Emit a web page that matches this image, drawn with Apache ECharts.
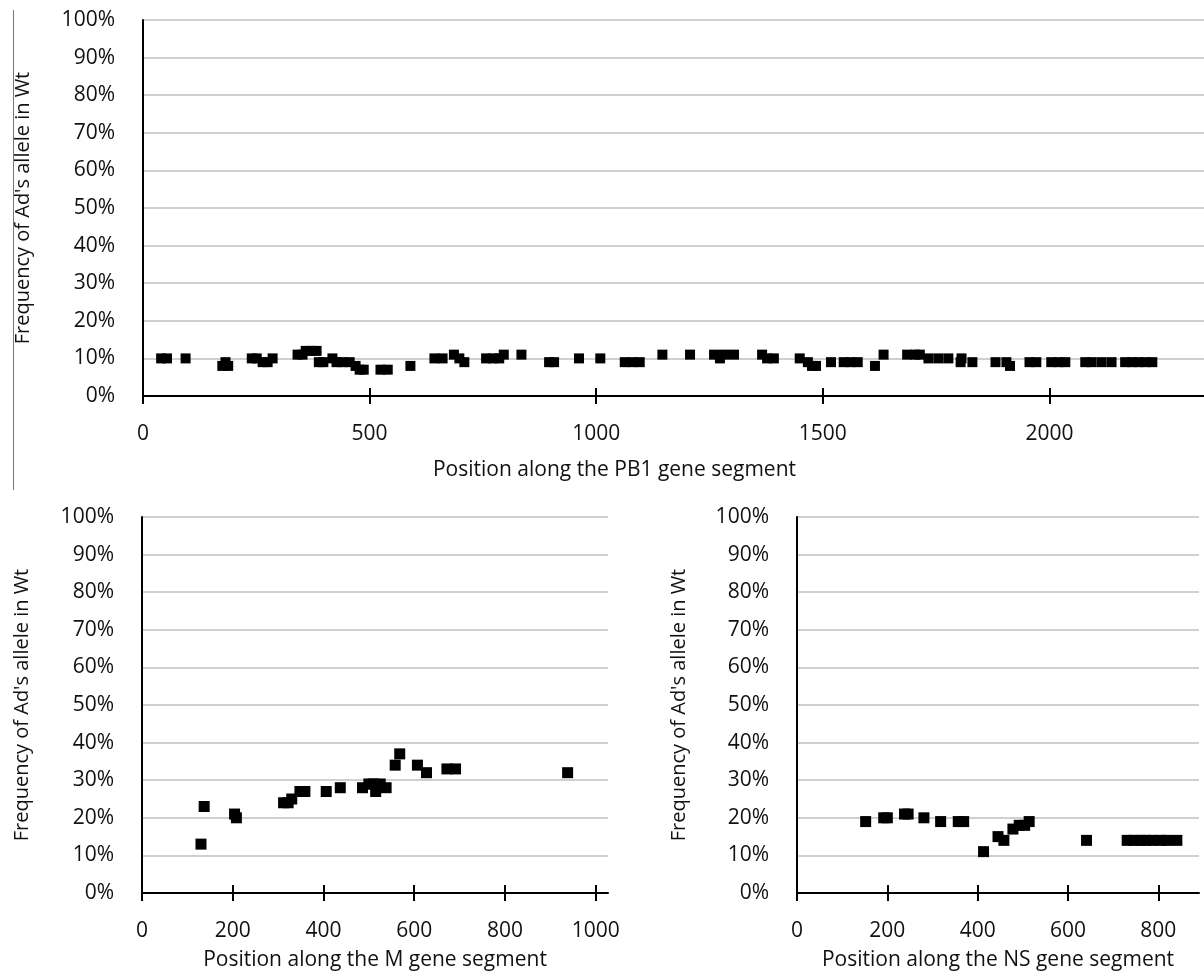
<!DOCTYPE html>
<html>
<head>
<meta charset="utf-8">
<script src="https://cdn.jsdelivr.net/npm/echarts@6/dist/echarts.min.js"></script>
<style>
html,body{margin:0;padding:0;background:#fff;}
#chart{width:1204px;height:973px;}
</style>
</head>
<body>
<div id="chart"></div>
<script>
// ---- Data (positions along segment, frequency in %) ----
const pb1Pos = [40,53,94,175,182,188,240,251,264,275,286,341,352,359,371,383,388,398,418,427,440,456,469,478,487,524,540,590,643,661,686,698,709,757,772,786,796,835,896,907,962,1009,1063,1080,1096,1146,1207,1260,1273,1282,1304,1366,1377,1392,1449,1467,1476,1485,1518,1546,1561,1577,1615,1634,1686,1704,1714,1733,1755,1777,1806,1804,1830,1881,1905,1913,1956,1971,2004,2020,2035,2079,2093,2115,2137,2167,2182,2196,2212,2227];
const pb1Freq = [10,10,10,8,9,8,10,10,9,9,10,11,11,12,12,12,9,9,10,9,9,9,8,7,7,7,7,8,10,10,11,10,9,10,10,10,11,11,9,9,10,10,9,9,9,11,11,11,10,11,11,11,10,10,10,9,8,8,9,9,9,9,8,11,11,11,11,10,10,10,10,9,9,9,9,8,9,9,9,9,9,9,9,9,9,9,9,9,9,9];

const mPos = [130,137,204,208,312,322,330,348,359,406,437,486,500,510,515,525,538,558,568,607,627,672,691,938];
const mFreq = [13,23,21,20,24,24,25,27,27,27,28,28,29,29,27,29,28,34,37,34,32,33,33,32];

const nsPos = [152,192,200,238,246,281,318,357,369,413,445,458,478,492,504,514,641,731,745,760,772,787,805,818,841];
const nsFreq = [19,20,20,21,21,20,19,19,19,11,15,14,17,18,18,19,14,14,14,14,14,14,14,14,14];

const yTicks = [0,10,20,30,40,50,60,70,80,90,100];
const pb1XTicks = [0,500,1000,1500,2000];
const mXTicks = [0,200,400,600,800,1000];
const nsXTicks = [0,200,400,600,800];

const yTitle = "Frequency of Ad's allele in Wt";
const FONT = "'Open Sans', 'Noto Sans', sans-serif";
const FS = 21;

function pairs(xs, ys){ return xs.map((x,i)=>[x, ys[i]]); }

const chart = echarts.init(document.getElementById('chart'), null, {renderer:'canvas'});

const grids = [
  {left:143, top:20, width:1063, height:376},
  {left:142, top:517, width:466, height:376},
  {left:797, top:517, width:402, height:376}
];

function xAxisPair(gi, max, ticks, name, nameGap, namePad){
  return [
    {
      type:'value', gridIndex:gi, min:0, max:max, position:'bottom',
      splitLine:{show:false},
      axisLine:{show:true, onZero:false, lineStyle:{color:'#000', width:2}},
      axisTick:{show:true, inside:false, length:8, customValues:ticks, lineStyle:{color:'#000', width:2}},
      axisLabel:{show:true, customValues:ticks, margin:28, fontSize:FS, color:'#111', fontFamily:FONT,
                 formatter:function(v){ return String(v); }},
      name:name, nameLocation:'middle', nameGap:nameGap,
      nameTextStyle:{fontSize:FS, color:'#111', fontFamily:FONT, padding:namePad}
    },
    {
      type:'value', gridIndex:gi, min:0, max:max, position:'bottom',
      splitLine:{show:false},
      axisLine:{show:false, onZero:false},
      axisTick:{show:true, inside:true, length:8, customValues:ticks, lineStyle:{color:'#000', width:2}},
      axisLabel:{show:false}
    }
  ];
}

function yAxis(gi, nameGap){
  return {
    type:'value', gridIndex:gi, min:0, max:100, interval:10,
    axisLine:{show:true, lineStyle:{color:'#000', width:2}},
    axisTick:{show:false},
    splitLine:{show:true, lineStyle:{color:'#bfbfbf', width:1.5}},
    axisLabel:{formatter:'{value}%', margin:28, fontSize:FS, color:'#111', fontFamily:FONT},
    name:yTitle, nameLocation:'middle', nameGap:nameGap, nameRotate:90,
    nameTextStyle:{fontSize:20, color:'#111', fontFamily:FONT}
  };
}

const xAxes = [].concat(
  xAxisPair(0, 2341, pb1XTicks, 'Position along the PB1 gene segment', 64, [0,118,0,0]),
  xAxisPair(1, 1027, mXTicks, 'Position along the M gene segment', 57, [0,0,0,0]),
  xAxisPair(2, 890, nsXTicks, 'Position along the NS gene segment', 57, [0,0,0,0])
);

const option = {
  backgroundColor:'#fff',
  animation:false,
  grid:grids,
  xAxis:xAxes,
  yAxis:[yAxis(0,110), yAxis(1,110), yAxis(2,108)],
  graphic:[
    {type:'line', shape:{x1:13.5, y1:10, x2:13.5, y2:490}, style:{stroke:'#777', lineWidth:1}}
  ],
  series:[
    {type:'scatter', xAxisIndex:0, yAxisIndex:0, symbol:'rect', symbolSize:10,
     itemStyle:{color:'#000', opacity:1}, data:pairs(pb1Pos, pb1Freq)},
    {type:'scatter', xAxisIndex:2, yAxisIndex:1, symbol:'rect', symbolSize:11,
     itemStyle:{color:'#000', opacity:1}, data:pairs(mPos, mFreq)},
    {type:'scatter', xAxisIndex:4, yAxisIndex:2, symbol:'rect', symbolSize:11,
     itemStyle:{color:'#000', opacity:1}, data:pairs(nsPos, nsFreq)}
  ]
};
chart.setOption(option);
</script>
</body>
</html>
